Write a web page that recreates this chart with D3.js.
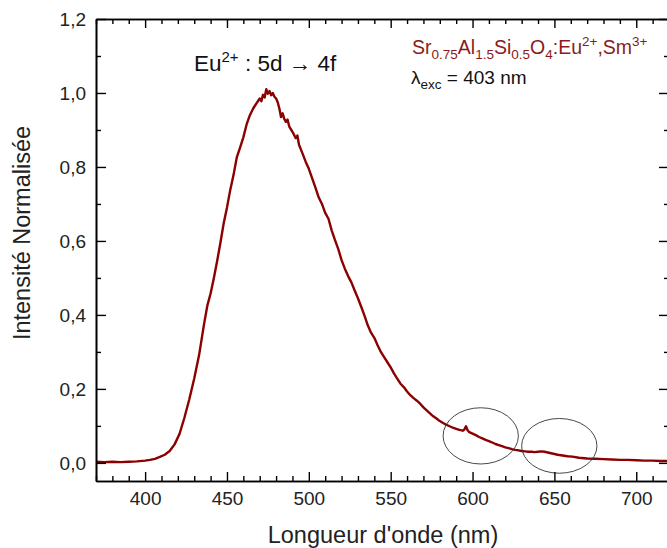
<!DOCTYPE html>
<html><head><meta charset="utf-8">
<script src="https://cdn.jsdelivr.net/npm/d3@7"></script>
<style>
html,body{margin:0;padding:0;background:#fff;}
svg{display:block;font-family:"Liberation Sans",Arial,sans-serif;}
</style></head>
<body>
<svg id="chart" width="667" height="548"></svg>
<script>
// ---- data ----
const wavelength = [370,375,380,385,390,395,400,403,406,409,412,415,418,421,424,427,430,433,436,438,440,442,444,446,448,450,452,454,456,458,460,462,464,466,468,470,471,472,473,474,475,476,477,478,479,480,481,482,483,484,485,486,487,488,490,492,493,494,496,498,500,502,504,506,508,510,512,514,516,518,520,522,524,526,528,530,532,534,536,538,540,542,544,546,548,550,552,554,556,558,560,562,564,566,568,570,572,574,576,578,580,582,584,586,588,590,592,594,595,596,597,598,600,602,604,606,608,610,612,614,616,618,620,622,624,626,628,630,632,634,636,638,640,642,644,646,648,650,652,655,658,661,665,670,675,680,685,690,695,700,705,710,715,720];
const intensity = [0.003,0.002,0.003,0.002,0.003,0.004,0.006,0.008,0.011,0.016,0.022,0.032,0.050,0.078,0.122,0.172,0.228,0.292,0.375,0.425,0.458,0.500,0.546,0.595,0.648,0.690,0.738,0.778,0.826,0.852,0.880,0.915,0.940,0.958,0.972,0.985,0.978,0.995,0.988,1.010,0.998,1.005,0.994,1.000,0.990,0.985,0.975,0.958,0.935,0.945,0.930,0.922,0.928,0.910,0.895,0.878,0.885,0.860,0.838,0.815,0.795,0.770,0.745,0.718,0.700,0.676,0.660,0.628,0.602,0.578,0.548,0.525,0.505,0.488,0.466,0.445,0.422,0.398,0.372,0.352,0.338,0.318,0.300,0.286,0.272,0.258,0.242,0.228,0.214,0.205,0.193,0.183,0.175,0.168,0.160,0.150,0.142,0.134,0.126,0.120,0.113,0.108,0.103,0.099,0.095,0.092,0.089,0.087,0.090,0.099,0.088,0.083,0.079,0.075,0.070,0.066,0.062,0.059,0.055,0.051,0.048,0.045,0.042,0.040,0.037,0.035,0.034,0.032,0.031,0.030,0.030,0.029,0.030,0.031,0.030,0.028,0.026,0.024,0.022,0.020,0.018,0.017,0.014,0.012,0.011,0.010,0.009,0.008,0.008,0.007,0.006,0.006,0.005,0.005];
const xMajorTicks = [400,450,500,550,600,650,700];
const yMajorTicks = [0.0,0.2,0.4,0.6,0.8,1.0,1.2];
// annotation ellipses (center nm, center value, radius nm, radius value)
const ellipseCx = [605, 653];
const ellipseCy = [0.073, 0.046];
const ellipseRx = [23, 23];
const ellipseRy = [0.076, 0.074];

// ---- layout ----
const svg = d3.select("#chart");
const L = 96, R = 669, T = 19, B = 481;
const x = d3.scaleLinear().domain([370, 720]).range([L, R]);
const y = d3.scaleLinear().domain([-0.049, 1.2]).range([B, T]);
const fmt = v => d3.format(".1f")(v).replace(".", ",");

const data = wavelength.map((w, i) => ({w, v: intensity[i]}));

// curve
svg.append("path")
  .datum(data)
  .attr("fill", "none")
  .attr("stroke", "#8b0000")
  .attr("stroke-width", 2.4)
  .attr("stroke-linejoin", "round")
  .attr("d", d3.line().x(d => x(d.w)).y(d => y(d.v)));

// ellipses
ellipseCx.forEach((c, i) => {
  svg.append("ellipse")
    .attr("cx", x(c)).attr("cy", y(ellipseCy[i]))
    .attr("rx", x(c + ellipseRx[i]) - x(c))
    .attr("ry", y(0) - y(ellipseRy[i]))
    .attr("fill", "none").attr("stroke", "#333").attr("stroke-width", 0.9);
});

// axes
const xMinor = d3.range(370, 721, 10).filter(v => v % 50 !== 0);
const yMinor = d3.range(-0.0, 1.21, 0.1).filter((v,i) => i % 2 === 1);

const gB = svg.append("g").attr("transform", `translate(0,${B})`)
  .call(d3.axisBottom(x).tickValues(xMajorTicks).tickSize(-9).tickPadding(11).tickSizeOuter(0));
gB.append("g").call(d3.axisBottom(x).tickValues(xMinor).tickSize(-5).tickFormat("").tickSizeOuter(0));

const gT = svg.append("g").attr("transform", `translate(0,${T})`)
  .call(d3.axisTop(x).tickValues(xMajorTicks).tickSize(-9).tickFormat("").tickSizeOuter(0));
gT.append("g").call(d3.axisTop(x).tickValues(xMinor).tickSize(-5).tickFormat("").tickSizeOuter(0));

const gL = svg.append("g").attr("transform", `translate(${L},0)`)
  .call(d3.axisLeft(y).tickValues(yMajorTicks).tickSize(-10).tickPadding(10).tickFormat(fmt).tickSizeOuter(0));
gL.append("g").call(d3.axisLeft(y).tickValues(yMinor).tickSize(-5).tickFormat("").tickSizeOuter(0));

const gR = svg.append("g").attr("transform", `translate(${R},0)`)
  .call(d3.axisRight(y).tickValues(yMajorTicks).tickSize(-10).tickFormat("").tickSizeOuter(0));
gR.append("g").call(d3.axisRight(y).tickValues(yMinor).tickSize(-5).tickFormat("").tickSizeOuter(0));

svg.selectAll(".domain").attr("stroke", "#000").attr("stroke-width", 1.6);
svg.selectAll(".tick line").attr("stroke", "#000").attr("stroke-width", 1.4);
svg.selectAll(".tick text").attr("font-size", 19).attr("fill", "#222")
  .attr("font-family", "'Liberation Sans', Arial, sans-serif");
gB.selectAll(".tick text").attr("dy", "0.71em");
gL.selectAll(".tick text").attr("dy", "0.36em");

// axis titles
svg.append("text").attr("x", 383).attr("y", 543).attr("text-anchor", "middle")
  .attr("font-size", 23.5).attr("fill", "#222").text("Longueur d'onde (nm)");
svg.append("text").attr("transform", "translate(30,233) rotate(-90)").attr("text-anchor", "middle")
  .attr("font-size", 23.5).attr("fill", "#222").text("Intensité Normalisée");

// annotation: Eu2+ : 5d -> 4f
const t1 = svg.append("text").attr("x", 194).attr("y", 71).attr("font-size", 22.5).attr("fill", "#111");
t1.append("tspan").text("Eu");
t1.append("tspan").attr("font-size", 15).attr("dy", -9).text("2+");
t1.append("tspan").attr("dy", 9).text(" : 5d \u2192 4f");

// compound label
const t2 = svg.append("text").attr("x", 412).attr("y", 54).attr("font-size", 19.5).attr("fill", "#8b1a1a");
const parts = [["Sr",0],["0.75",1],["Al",0],["1.5",1],["Si",0],["0.5",1],["O",0],["4",1],[":Eu",0],["2+",2],[",Sm",0],["3+",2]];
let prev = 0;
parts.forEach(([s, k]) => {
  const off = k === 1 ? 5 : (k === 2 ? -8 : 0);
  t2.append("tspan").attr("font-size", k ? 13.5 : 19.5).attr("dy", off - prev).text(s);
  prev = off;
});

// excitation label
const t3 = svg.append("text").attr("x", 411).attr("y", 84).attr("font-size", 19).attr("fill", "#111");
t3.append("tspan").text("\u03bb");
t3.append("tspan").attr("font-size", 13.5).attr("dy", 5).text("exc");
t3.append("tspan").attr("dy", -5).text(" = 403 nm");
</script>
</body></html>
